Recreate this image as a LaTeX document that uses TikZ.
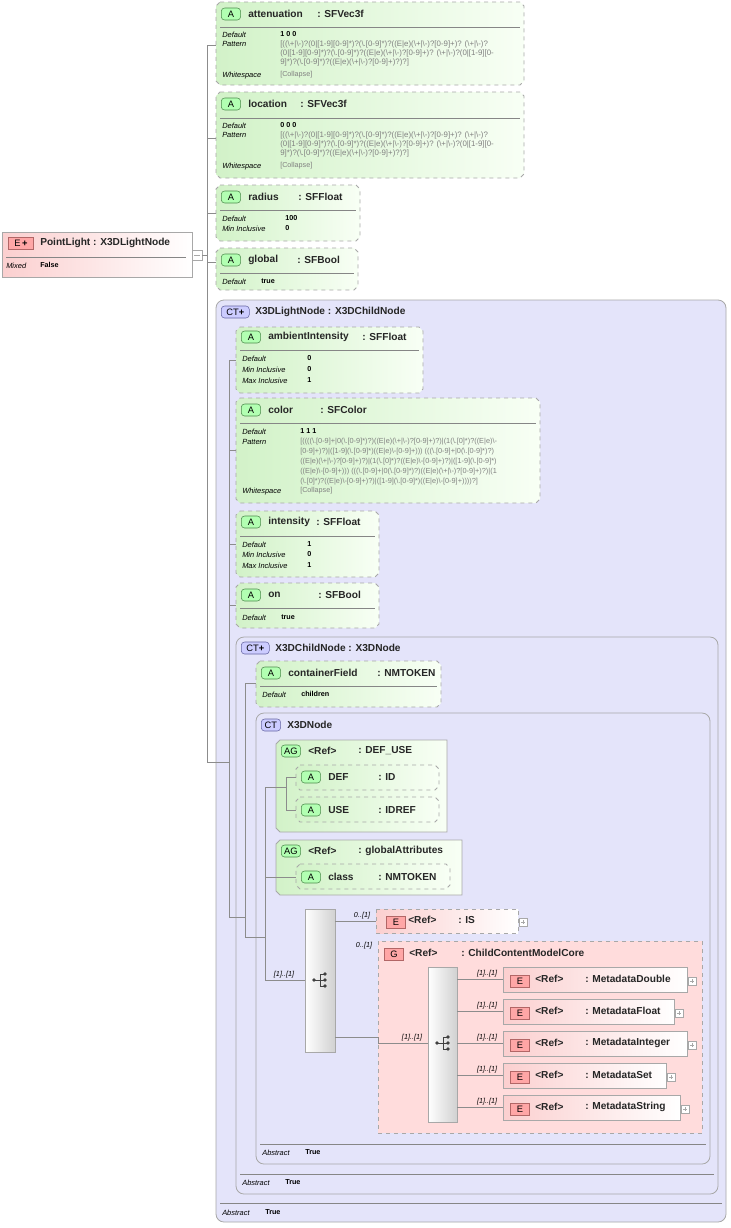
\documentclass[tikz,border=0pt]{standalone}
\usepackage{fontspec}
\setmainfont{Liberation Sans}
\begin{document}
\definecolor{attg}{HTML}{D2F2C8}
\definecolor{attw}{HTML}{F8FFF5}
\definecolor{elp}{HTML}{FBCFCF}
\definecolor{ctb}{HTML}{E4E4FA}
\definecolor{grpp}{HTML}{FFDCDC}
\definecolor{bdr}{HTML}{A8A8A8}
\definecolor{ln}{HTML}{8C8C8C}
\newcommand\B{\textbackslash}
\newcommand\attr[4]{\path[attrbox] (#1+4,#2) -- (#3-4,#2) -- (#3,#2+4) -- (#3,#4-4) -- (#3-4,#4) -- (#1+4,#4) -- (#1,#4-4) -- (#1,#2+4) -- cycle;}
\newcommand\sepl[3]{\draw[bdr!80!black,line width=0.5pt] (#1,#3) -- (#2,#3);}
\newcommand\plusbox[2]{\draw[bdr,fill=white,line width=0.4pt] (#1,#2-4) rectangle (#1+8,#2+4); \draw[bdr,line width=0.4pt] (#1+2,#2) -- (#1+6,#2) (#1+4,#2-2) -- (#1+4,#2+2);}
\newcommand\seqicon[2]{\fill[black!75] (#1-6,#2) circle (1.8); \draw[black!75,line width=0.7pt] (#1-6,#2) -- (#1,#2) (#1,#2-6) -- (#1,#2+6) (#1,#2-6) -- (#1+4,#2-6) (#1,#2) -- (#1+4,#2) (#1,#2+6) -- (#1+4,#2+6); \fill[black!75] (#1+5,#2-6) circle (1.8) (#1+5,#2) circle (1.8) (#1+5,#2+6) circle (1.8);}
\begin{tikzpicture}[x=0.75pt,y=-0.75pt,
  hd/.style={anchor=west,inner sep=0,font=\fontsize{7.6}{9}\selectfont\bfseries,text=black!85},
  lb/.style={anchor=west,inner sep=0,font=\fontsize{5.6}{7}\selectfont\itshape},
  vl/.style={anchor=west,inner sep=0,font=\fontsize{5.4}{7}\selectfont\bfseries},
  pt/.style={anchor=west,inner sep=0,font=\fontsize{5.9}{7}\selectfont,text=black!50},
  pc/.style={anchor=west,inner sep=0,font=\fontsize{5.5}{7}\selectfont,text=black!50},
  ml/.style={anchor=south,inner sep=0,font=\fontsize{5.4}{7}\selectfont\itshape},
  attrbox/.style={draw=bdr,dashed,line width=0.6pt,left color=attg,right color=attw},
  elbox/.style={draw=bdr,line width=0.6pt,left color=elp,right color=white},
  ctbox/.style={draw=bdr,line width=0.6pt,fill=ctb,rounded corners=6},
  bA/.style={draw=green!35!black!70,fill=green!30!white,rounded corners=2.5,minimum width=14.5pt,minimum height=9pt,inner sep=0,font=\fontsize{7}{8}\selectfont,anchor=west},
  bE/.style={draw=red!50!black!60,fill=red!35!white,minimum width=14.5pt,minimum height=9pt,inner sep=0,font=\fontsize{7}{8}\selectfont,anchor=west},
  bC/.style={draw=blue!40!black!60,fill=blue!20!white,rounded corners=2.5,minimum width=14.5pt,minimum height=9pt,inner sep=0,font=\fontsize{7}{8}\selectfont,anchor=west},
  seq/.style={draw=bdr,line width=0.6pt,left color=white,right color=black!18},
  cn/.style={ln,line width=0.6pt}]
\useasboundingbox (0,0) rectangle (731,1228);
\fill[white] (0,0) rectangle (731,1228);

% ---- PointLight
\path[elbox] (2,232) rectangle (192,277);
\node[bE,minimum width=19pt] (pe) at (8,243) {E\,\textbf{+}};
\node[hd] (pn) at (40,243) {PointLight : X3DLightNode};
\sepl{6}{186}{257}
\node[lb] at (6,266) {Mixed};
\node[vl] at (40,265) {False};
\draw[bdr,fill=white,line width=0.4pt] (192,250) rectangle (202,260);
\draw[bdr] (194,255) -- (200,255);
\coordinate (t1) at (202,255);

% ---- attenuation
\attr{216}{2}{524}{85}
\node[bA] at (221,14) {A};
\node[hd] at (248,14) {attenuation};
\node[hd] at (317,14) {: SFVec3f};
\sepl{220}{520}{27}
\node[lb] at (222,35) {Default}; \node[vl] at (280,34) {1 0 0};
\node[lb] at (222,44) {Pattern};
\node[pt] at (280,44) {[((\B+|\B-)?(0|[1-9][0-9]*)?(\B.[0-9]*)?((E|e)(\B+|\B-)?[0-9]+)? (\B+|\B-)?};
\node[pt] at (280,53) {(0|[1-9][0-9]*)?(\B.[0-9]*)?((E|e)(\B+|\B-)?[0-9]+)? (\B+|\B-)?(0|[1-9][0-};
\node[pt] at (280,62) {9]*)?(\B.[0-9]*)?((E|e)(\B+|\B-)?[0-9]+)?)?]};
\node[lb] at (222,76) {Whitespace}; \node[pt,font=\fontsize{5.4}{7}\selectfont] at (280,75) {[Collapse]};

% ---- location
\attr{216}{92}{524}{178}
\node[bA] at (221,104) {A};
\node[hd] at (248,104) {location};
\node[hd] at (300,104) {: SFVec3f};
\sepl{220}{520}{118}
\node[lb] at (222,126) {Default}; \node[vl] at (280,125) {0 0 0};
\node[lb] at (222,135) {Pattern};
\node[pt] at (280,135) {[((\B+|\B-)?(0|[1-9][0-9]*)?(\B.[0-9]*)?((E|e)(\B+|\B-)?[0-9]+)? (\B+|\B-)?};
\node[pt] at (280,144) {(0|[1-9][0-9]*)?(\B.[0-9]*)?((E|e)(\B+|\B-)?[0-9]+)? (\B+|\B-)?(0|[1-9][0-};
\node[pt] at (280,153) {9]*)?(\B.[0-9]*)?((E|e)(\B+|\B-)?[0-9]+)?)?]};
\node[lb] at (222,167) {Whitespace}; \node[pt,font=\fontsize{5.4}{7}\selectfont] at (280,166) {[Collapse]};

% ---- radius
\attr{216}{185}{360}{241}
\node[bA] at (221,197) {A};
\node[hd] at (248,197) {radius};
\node[hd] at (298,197) {: SFFloat};
\sepl{220}{356}{210}
\node[lb] at (222,219) {Default}; \node[vl] at (285,218) {100};
\node[lb] at (222,229) {Min Inclusive}; \node[vl] at (285,228) {0};

% ---- global
\attr{216}{248}{358}{290}
\node[bA] at (221,260) {A};
\node[hd] at (248,260) {global};
\node[hd] at (297,260) {: SFBool};
\sepl{220}{354}{273}
\node[lb] at (222,282) {Default}; \node[vl] at (261,281) {true};

% ---- CT X3DLightNode
\path[ctbox] (216,300) rectangle (726,1222);
\node[bC,minimum width=21pt] at (221,312) {CT\textbf{+}};
\node[hd] at (255,312) {X3DLightNode : X3DChildNode};
\sepl{220}{722}{1203}
\node[lb] at (222,1213) {Abstract}; \node[vl] at (265,1212) {True};

\attr{236}{327}{423}{393}
\node[bA] at (241,337) {A};
\node[hd] at (268,337) {ambientIntensity};
\node[hd] at (362,337) {: SFFloat};
\sepl{240}{419}{350}
\node[lb] at (242,359) {Default}; \node[vl] at (307,358) {0};
\node[lb] at (242,370) {Min Inclusive}; \node[vl] at (307,369) {0};
\node[lb] at (242,381) {Max Inclusive}; \node[vl] at (307,380) {1};

\attr{236}{398}{540}{503}
\node[bA] at (241,410) {A};
\node[hd] at (268,410) {color};
\node[hd] at (320,410) {: SFColor};
\sepl{240}{536}{423}
\node[lb] at (242,432) {Default}; \node[vl] at (300,431) {1 1 1};
\node[lb] at (242,442) {Pattern};
\node[pc] at (300,442) {[((((\B.[0-9]+|0(\B.[0-9]*)?)((E|e)(\B+|\B-)?[0-9]+)?)|(1(\B.[0]*)?((E|e)\B-};
\node[pc] at (300,452) {[0-9]+)?)|([1-9](\B.[0-9]*)((E|e)\B-[0-9]+))) (((\B.[0-9]+|0(\B.[0-9]*)?)};
\node[pc] at (300,462) {((E|e)(\B+|\B-)?[0-9]+)?)|(1(\B.[0]*)?((E|e)\B-[0-9]+)?)|([1-9](\B.[0-9]*)};
\node[pc] at (300,472) {((E|e)\B-[0-9]+))) (((\B.[0-9]+|0(\B.[0-9]*)?)((E|e)(\B+|\B-)?[0-9]+)?)|(1};
\node[pc] at (300,482) {(\B.[0]*)?((E|e)\B-[0-9]+)?)|([1-9](\B.[0-9]*)((E|e)\B-[0-9]+))))?]};
\node[lb] at (242,492) {Whitespace}; \node[pt,font=\fontsize{5.4}{7}\selectfont] at (300,491) {[Collapse]};

\attr{236}{511}{379}{577}
\node[bA] at (241,522) {A};
\node[hd] at (268,522) {intensity};
\node[hd] at (316,522) {: SFFloat};
\sepl{240}{375}{536}
\node[lb] at (242,545) {Default}; \node[vl] at (307,544) {1};
\node[lb] at (242,555) {Min Inclusive}; \node[vl] at (307,554) {0};
\node[lb] at (242,566) {Max Inclusive}; \node[vl] at (307,565) {1};

\attr{236}{583}{379}{628}
\node[bA] at (241,595) {A};
\node[hd] at (268,595) {on};
\node[hd] at (318,595) {: SFBool};
\sepl{240}{375}{608}
\node[lb] at (242,618) {Default}; \node[vl] at (281,617) {true};

% ---- CT X3DChildNode
\path[ctbox] (236,637) rectangle (718,1194);
\node[bC,minimum width=21pt] at (241,648) {CT\textbf{+}};
\node[hd] at (275,648) {X3DChildNode : X3DNode};
\sepl{240}{714}{1174}
\node[lb] at (242,1183) {Abstract}; \node[vl] at (285,1182) {True};

\attr{256}{661}{441}{707}
\node[bA] at (261,673) {A};
\node[hd] at (288,673) {containerField};
\node[hd] at (377,673) {: NMTOKEN};
\sepl{260}{437}{686}
\node[lb] at (262,695) {Default}; \node[vl] at (301,694) {children};

% ---- CT X3DNode
\path[ctbox] (256,713) rectangle (710,1164);
\node[bC] at (261,725) {CT};
\node[hd] at (287,725) {X3DNode};
\sepl{260}{706}{1144}
\node[lb] at (262,1153) {Abstract}; \node[vl] at (305,1152) {True};

% AG DEF_USE
\path[attrbox,solid] (276+4,740) -- (447,740) -- (447,832) -- (276+4,832) -- (276,832-4) -- (276,744) -- cycle;
\node[bA] at (281,751) {AG};
\node[hd] at (308,751) {<Ref>};
\node[hd] at (358,751) {: DEF\_USE};
\attr{296}{765}{439}{790}
\node[bA] at (301,777) {A};
\node[hd] at (328,777) {DEF};
\node[hd] at (378,777) {: ID};
\attr{296}{797}{439}{822}
\node[bA] at (301,810) {A};
\node[hd] at (328,810) {USE};
\node[hd] at (378,810) {: IDREF};

% AG globalAttributes
\path[attrbox,solid] (276+4,840) -- (462,840) -- (462,895) -- (276+4,895) -- (276,895-4) -- (276,844) -- cycle;
\node[bA] at (281,851) {AG};
\node[hd] at (308,851) {<Ref>};
\node[hd] at (358,851) {: globalAttributes};
\attr{296}{864}{450}{889}
\node[bA] at (301,877) {A};
\node[hd] at (328,877) {class};
\node[hd] at (378,877) {: NMTOKEN};

% sequence 1
\path[seq] (305,909) rectangle (335,1052);
\seqicon{320}{980}

% IS
\path[elbox,dashed] (376,909) rectangle (518,933);
\node[bE] at (386,922) {E};
\node[hd] at (408,920) {<Ref>};
\node[hd] at (458,920) {: IS};
\plusbox{519}{922}

% Group
\path[draw=bdr,dashed,line width=0.6pt,fill=grpp] (378,941) rectangle (702,1133);
\node[bE] at (384,954) {G};
\node[hd] at (409,953) {<Ref>};
\node[hd] at (461,953) {: ChildContentModelCore};
\path[seq] (428,967) rectangle (457,1122);
\seqicon{443}{1043}

\foreach \yy/\nm/\xr in {979/MetadataDouble/687,1011/MetadataFloat/674,1043/MetadataInteger/687,1075/MetadataSet/666,1107/MetadataString/680}{
  \path[elbox] (503,\yy-12) rectangle (\xr,\yy+13);
  \node[bE] at (510,\yy+2) {E};
  \node[hd] at (535,\yy) {<Ref>};
  \node[hd] at (585,\yy) {: \nm};
  \plusbox{\xr+1}{\yy+2}
  \draw[cn] (457,\yy) -- (503,\yy);
  \node[ml] at (487,\yy-2) {[1]..[1]};
}

% ---- connectors
\draw[cn] (t1) -- (207,255);
\draw[cn] (207,45) -- (207,762);
\foreach \yy in {45,138,213,262}{\draw[cn] (207,\yy) -- (216,\yy);}
\draw[cn] (207,762) -- (229,762);
\draw[cn] (229,360) -- (229,917);
\foreach \yy in {360,450,544,605}{\draw[cn] (229,\yy) -- (236,\yy);}
\draw[cn] (229,917) -- (245,917);
\draw[cn] (245,683) -- (245,937);
\draw[cn] (245,683) -- (256,683);
\draw[cn] (245,937) -- (265,937);
\draw[cn] (265,787) -- (265,980);
\draw[cn] (265,787) -- (286,787);
\draw[cn] (286,777) -- (286,810);
\draw[cn] (286,777) -- (296,777);
\draw[cn] (286,810) -- (296,810);
\draw[cn] (265,877) -- (296,877);
\draw[cn] (265,980) -- (305,980);
\node[ml] at (284,978) {[1]..[1]};
\draw[cn] (335,921) -- (376,921);
\node[ml] at (362,919) {0..[1]};
\node[ml] at (364,949) {0..[1]};
\draw[cn] (335,1037) -- (378,1037) -- (378,1043) -- (428,1043);
\node[ml] at (412,1041) {[1]..[1]};
\end{tikzpicture}
\end{document}
